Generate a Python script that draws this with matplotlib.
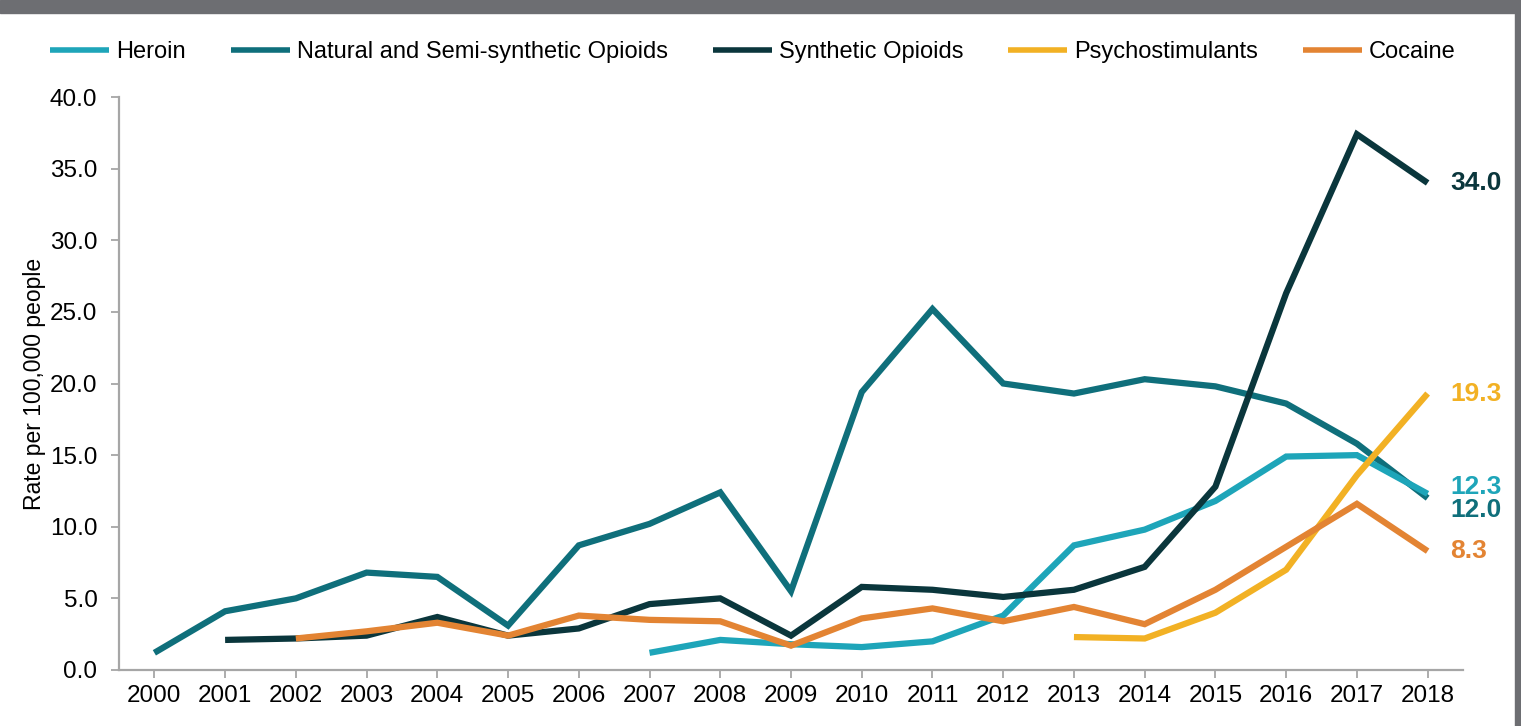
import matplotlib.pyplot as plt
from matplotlib.patches import Rectangle

plt.rcParams['font.family'] = ['Liberation Sans', 'DejaVu Sans']

years = list(range(2000, 2019))

heroin_years = list(range(2007, 2019))
heroin = [1.2, 2.1, 1.8, 1.6, 2.0, 3.8, 8.7, 9.8, 11.8, 14.9, 15.0, 12.3]

natural_years = list(range(2000, 2019))
natural = [1.2, 4.1, 5.0, 6.8, 6.5, 3.1, 8.7, 10.2, 12.4, 5.5,
           19.4, 25.2, 20.0, 19.3, 20.3, 19.8, 18.6, 15.8, 12.0]

synthetic_years = list(range(2001, 2019))
synthetic = [2.1, 2.2, 2.4, 3.7, 2.4, 2.9, 4.6, 5.0, 2.4,
             5.8, 5.6, 5.1, 5.6, 7.2, 12.8, 26.3, 37.4, 34.0]

psycho_years = list(range(2013, 2019))
psycho = [2.3, 2.2, 4.0, 7.0, 13.6, 19.3]

cocaine_years = list(range(2002, 2019))
cocaine = [2.2, 2.7, 3.3, 2.4, 3.8, 3.5, 3.4, 1.7, 3.6, 4.3,
           3.4, 4.4, 3.2, 5.6, 8.6, 11.6, 8.3]

series = [
    ("Heroin", heroin_years, heroin, "#1ea5b9"),
    ("Natural and Semi-synthetic Opioids", natural_years, natural, "#0f6f7b"),
    ("Synthetic Opioids", synthetic_years, synthetic, "#0a363c"),
    ("Psychostimulants", psycho_years, psycho, "#f2b124"),
    ("Cocaine", cocaine_years, cocaine, "#e38433"),
]

fig = plt.figure(figsize=(15.21, 7.26), dpi=100, facecolor='white')
ax = fig.add_axes([119 / 1521, 56 / 726, (1463 - 119) / 1521, (670 - 97) / 726])

# draw order: back to front roughly as in the source
order = [1, 0, 2, 3, 4]
for i in order:
    name, xs, ys, col = series[i]
    ax.plot(xs, ys, color=col, lw=4.5, label=name, solid_capstyle='butt',
            solid_joinstyle='miter', zorder=3 + order.index(i))

# end labels (label y nudged where they would collide)
end_labels = [
    (synthetic[-1], 34.0, "#0a363c"),
    (psycho[-1], 19.3, "#f2b124"),
    (heroin[-1], 12.8, "#1ea5b9"),
    (natural[-1], 11.2, "#0f6f7b"),
    (cocaine[-1], 8.3, "#e38433"),
]
for val, ypos, col in end_labels:
    ax.annotate(f"{val:.1f}", xy=(2018, ypos), xytext=(16.5, 0),
                textcoords='offset points', color=col, fontsize=19,
                fontweight='bold', va='center', ha='left',
                annotation_clip=False)

ax.set_xlim(1999.5, 2018.5)
ax.set_ylim(0, 40)
ax.set_xticks(years)
ax.set_xticklabels([str(y) for y in years], fontsize=17.5)
ax.set_yticks(range(0, 41, 5))
ax.set_yticklabels([f"{v:.1f}" for v in range(0, 41, 5)], fontsize=17.5)
ax.set_ylabel("Rate per 100,000 people", fontsize=16.5, labelpad=3)

for s in ['top', 'right']:
    ax.spines[s].set_visible(False)
for s in ['left', 'bottom']:
    ax.spines[s].set_color('#a6a6a6')
    ax.spines[s].set_linewidth(1.6)
ax.tick_params(axis='both', color='#a6a6a6', width=1.3, length=5.5,
               direction='out', labelcolor='black')
ax.tick_params(axis='x', pad=5)
ax.tick_params(axis='y', pad=10)

handles, labels = ax.get_legend_handles_labels()
hl = dict(zip(labels, handles))
names = [s[0] for s in series]
leg = fig.legend([hl[n] for n in names], names, loc='center', ncol=5,
                 bbox_to_anchor=(753 / 1521, 1 - 52 / 726), frameon=False,
                 fontsize=17, handlelength=2.5, columnspacing=1.9,
                 handletextpad=0.3, borderpad=0, borderaxespad=0)
for h in leg.get_lines():
    h.set_linewidth(4)

# top banner and right border
fig.patches.append(Rectangle((0, 1 - 13 / 726), 1, 13 / 726,
                             transform=fig.transFigure, color='#6d6e72',
                             zorder=0))
fig.patches.append(Rectangle((1 - 6 / 1521, 0), 6 / 1521, 1,
                             transform=fig.transFigure, color='#6d6e72',
                             zorder=0))
# title sits mostly above the top edge, as in the cropped source
fig.text(705 / 1521, 1 + 6 / 726,
         "Drug overdose death rates (per 100,000 people), by drug type (2000–2018)",
         color='white', fontsize=21, fontweight='bold', ha='center',
         va='baseline')

fig.savefig("out.png", dpi=100, facecolor='white')
